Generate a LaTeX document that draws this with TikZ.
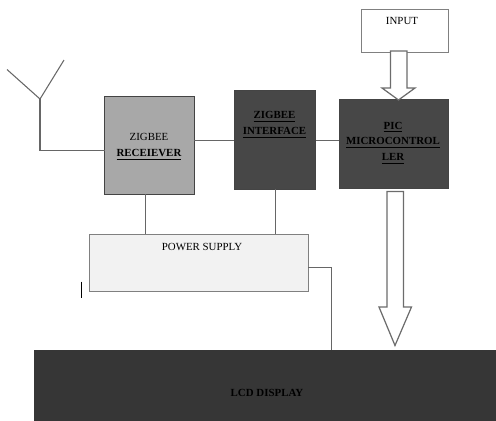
\documentclass[tikz,border=0pt]{standalone}
\usepackage{fontspec}
\setmainfont{Liberation Serif}
\usetikzlibrary{calc}
\definecolor{wirecol}{HTML}{666666}
\definecolor{edgecol}{HTML}{444444}
\tikzset{
  box/.style={draw=edgecol,line width=0.5pt,inner sep=0pt,outer sep=0pt},
  wire/.style={draw=wirecol,line width=0.6pt},
  blockarrow/.style={draw=gray!85!black,line width=0.7pt,fill=white},
  lbl/.style={font=\fontsize{6.2}{9}\selectfont,align=center,text=black,inner sep=0pt}
}
\begin{document}
\begin{tikzpicture}[scale=0.02]
\useasboundingbox (0,0) rectangle (496,-421);

\node[box,draw=gray,minimum width=1.74cm,minimum height=0.86cm] (input) at (404.5,-31) {};
\node[box,fill=black!34,minimum width=1.79cm,minimum height=1.96cm] (recv) at (149.25,-145) {};
\node[box,fill=black!72,minimum width=1.63cm,minimum height=1.98cm] (iface) at (274.75,-139.5) {};
\node[box,fill=black!72,minimum width=2.18cm,minimum height=1.78cm] (pic) at (393.5,-144) {};
\node[box,draw=gray,fill=black!5,minimum width=4.38cm,minimum height=1.14cm] (supply) at (198.5,-262.5) {};
\node[box,draw=none,fill=black!79,minimum width=9.24cm,minimum height=1.42cm] (lcd) at (265,-385.5) {};

\node[lbl] (inputtxt) at (402,-20.5) {INPUT};
\node[lbl] (recvtxt) at (149,-147) {ZIGBEE\\\textbf{\underline{RECEIEVER}}};
\node[lbl] (ifacetxt) at (274.5,-125) {\textbf{\underline{ZIGBEE}}\\\textbf{\underline{INTERFACE}}};
\node[lbl] (pictxt) at (393,-143) {\textbf{\underline{PIC}}\\\textbf{\underline{MICROCONTROL}}\\\textbf{\underline{LER}}};
\node[lbl] (supplytxt) at (202,-246.5) {POWER SUPPLY};
\node[lbl] (lcdtxt) at (267,-393) {\textbf{LCD DISPLAY}};

% antenna
\coordinate (antl) at (7,-69.5);
\coordinate (antr) at (64,-60);
\coordinate (antfoot) at (40,-99);
\coordinate (antin) at (104.5,-150.5);
\draw[wire] (antl) -- (antfoot) -- (antr);
\draw[wire] (antfoot) |- (antin);

% links
\coordinate (link) at (0,-140);
\coordinate (recvfeed) at (145,0);
\coordinate (ifacefeed) at (275,0);
\coordinate (lcdout) at (308,-267.5);
\coordinate (lcdfeed) at (331.5,-350);
\draw[wire] (recv.east |- link) -- (iface.west |- link);
\draw[wire] (iface.east |- link) -- (pic.west |- link);
\draw[wire] (recv.south -| recvfeed) -- (supply.north -| recvfeed);
\draw[wire] (iface.south -| ifacefeed) -- (supply.north -| ifacefeed);
\draw[wire] (lcdout) -| (lcdfeed);

% stray mark
\coordinate (marktop) at (81.5,-281.5);
\coordinate (markbot) at (81.5,-298);
\draw[black,line width=0.7pt] (marktop) -- (markbot);

% block arrows
\draw[blockarrow] (390.5,-51) -- (407,-51) -- (407,-88) -- (415,-88) -- (398.5,-100) -- (382,-88) -- (390.5,-88) -- cycle;
\draw[blockarrow] (387,-191.5) -- (403.5,-191.5) -- (403.5,-307) -- (411.5,-307) -- (395,-345.5) -- (379,-307) -- (387,-307) -- cycle;
\end{tikzpicture}
\end{document}
